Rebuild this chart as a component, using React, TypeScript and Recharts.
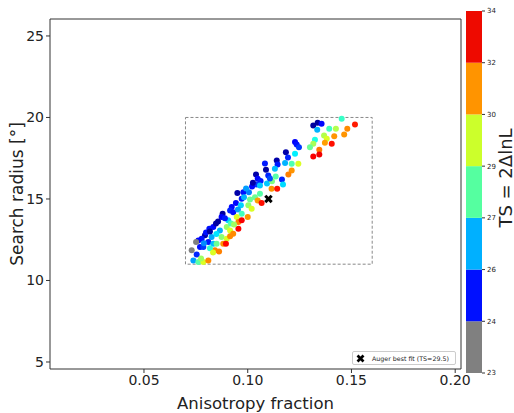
import { ScatterChart, Scatter, XAxis, YAxis, ReferenceArea, ReferenceLine, BarChart, Bar } from 'recharts'

// likelihood scan: anisotropy fraction, search radius [deg], TS value
const frac = [
  0.1453, 0.1316, 0.1337, 0.1356, 0.1335, 0.1393, 0.1425, 0.148, 0.1517, 0.1465,
  0.1417, 0.1368, 0.1381, 0.1324, 0.1316, 0.13, 0.1372, 0.1405, 0.1345, 0.1316,
  0.1345, 0.1228, 0.1236, 0.1247, 0.1184, 0.1228, 0.1212, 0.1244, 0.114, 0.1144,
  0.118, 0.1212, 0.1196, 0.1088, 0.1131, 0.1099, 0.1135, 0.104, 0.1048, 0.1062,
  0.1043, 0.1059, 0.1115, 0.1142, 0.1059, 0.1035, 0.1048, 0.1067, 0.095, 0.0979,
  0.1006, 0.0971, 0.0943, 0.0967, 0.1003, 0.1019, 0.0923, 0.0915, 0.093, 0.0953,
  0.0971, 0.1, 0.0879, 0.0874, 0.0906, 0.0947, 0.0955, 0.0971, 0.0834, 0.0847,
  0.0815, 0.0866, 0.0899, 0.0915, 0.093, 0.0955, 0.0794, 0.0778, 0.0762, 0.0826,
  0.0874, 0.0899, 0.0915, 0.0751, 0.077, 0.0786, 0.081, 0.0834, 0.085, 0.0882,
  0.0895, 0.073, 0.0754, 0.0738, 0.0762, 0.0786, 0.081, 0.0842, 0.0775, 0.0799,
  0.0818, 0.0849, 0.0857, 0.089, 0.0919, 0.0934, 0.0789, 0.0818, 0.0833, 0.0862,
  0.0982, 0.1011, 0.1093, 0.1117, 0.1165, 0.117, 0.1194, 0.1083, 0.1107, 0.1021,
  0.1025, 0.0992,
]
const radius = [
  19.92, 19.51, 19.68, 19.61, 19.25, 19.31, 19.31, 19.31, 19.57, 18.96,
  18.85, 18.9, 18.69, 18.63, 18.39, 18.18, 18.45, 18.39, 18.02, 17.61,
  17.73, 18.49, 18.34, 18.18, 17.87, 17.77, 17.16, 17.16, 17.36, 17.12,
  17.2, 16.75, 16.5, 16.79, 16.85, 16.44, 16.38, 16.5, 16.24, 16.1,
  15.89, 15.83, 15.63, 15.63, 15.32, 15.11, 14.91, 14.75, 15.36, 15.42,
  15.42, 15.02, 14.75, 14.61, 14.61, 14.4, 14.5, 14.3, 14.19, 14.36,
  14.1, 13.89, 14.1, 13.89, 13.69, 13.89, 13.58, 13.69, 13.28, 13.5,
  13.18, 13.07, 13.28, 13.07, 12.87, 13.18, 12.77, 12.56, 12.46, 12.66,
  12.66, 12.56, 12.71, 12.36, 12.05, 12.05, 12.36, 12.26, 12.26, 12.26,
  12.26, 11.85, 11.6, 11.23, 11.13, 11.13, 11.23, 11.85, 11.35, 12.95,
  13.0, 12.85, 13.62, 13.81, 13.5, 13.44, 12.28, 11.97, 11.72, 11.78,
  15.1, 14.97, 15.95, 16.08, 16.2, 15.89, 17.55, 17.18, 16.26, 15.77,
  16.0, 15.65,
]
const tsValues = [
  28.3, 24.3, 24.3, 25.3, 27.0, 28.4, 29.5, 31.4, 32.5, 31.3,
  31.3, 29.5, 29.9, 28.0, 29.4, 28.8, 31.2, 32.6, 31.6, 32.8,
  32.9, 25.2, 25.4, 25.8, 24.4, 27.6, 28.5, 29.9, 24.4, 25.5,
  27.0, 31.3, 31.5, 24.3, 27.1, 25.6, 28.6, 24.4, 25.3, 25.5,
  25.8, 27.2, 31.3, 32.6, 28.6, 28.8, 31.2, 32.6, 24.4, 25.4,
  26.5, 25.5, 25.3, 27.3, 29.2, 29.9, 25.3, 25.6, 25.4, 26.8,
  28.4, 31.3, 24.3, 25.2, 27.3, 29.9, 31.5, 32.8, 25.3, 24.4,
  25.4, 27.0, 29.2, 29.9, 31.4, 32.8, 24.4, 25.4, 25.3, 26.9,
  29.1, 29.9, 31.4, 23.5, 25.4, 25.8, 25.5, 27.1, 28.8, 31.3,
  32.7, 23.5, 25.6, 26.8, 28.6, 29.9, 31.4, 31.5, 29.3, 25.4,
  24.3, 27.5, 24.3, 25.5, 28.5, 29.3, 26.6, 28.2, 29.9, 31.5,
  27.0, 28.8, 27.2, 29.0, 25.6, 27.4, 25.6, 25.5, 26.0, 25.3,
  24.4, 26.8,
]

const bestFit = [{ x: 0.11, y: 15, ts: 29.5 }]

const xDomain = [0.0047, 0.2028]
const yDomain = [4.57, 26.04]
const xTicks = [0.05, 0.1, 0.15, 0.2]
const yTicks = [5, 10, 15, 20, 25]

// colorbar
const cbBounds = [23, 24, 26, 27, 29, 30, 32, 34]
const cbColors = ['#808080', '#0010ff', '#00b0ff', '#55ffa0', '#ccff2b', '#ff9400', '#ee0a00']

const FONT = '"DejaVu Sans", sans-serif'

const clamp = (v: number) => Math.max(0, Math.min(1, v))

// jet colormap, grey below 24
function tsColor(v: number) {
  if (v < 24) return '#808080'
  const t = clamp((v - 24) / 10)
  const r = clamp(Math.min(4 * t - 1.5, -4 * t + 4.5))
  const g = clamp(Math.min(4 * t - 0.5, -4 * t + 3.5))
  const b = clamp(Math.min(4 * t + 0.5, -4 * t + 2.5))
  return `rgb(${Math.round(r * 255)},${Math.round(g * 255)},${Math.round(b * 255)})`
}

const scanData = frac.map((f, i) => ({ x: f, y: radius[i], ts: tsValues[i] }))

const Dot = (props: any) => {
  const { cx, cy, payload } = props
  return <circle cx={cx} cy={cy} r={3} fill={tsColor(payload.ts)} />
}

const XMark = (props: any) => {
  const { cx, cy } = props
  const a = 3.2
  return (
    <g stroke="#000" strokeWidth={3}>
      <line x1={cx - a} y1={cy - a} x2={cx + a} y2={cy + a} />
      <line x1={cx - a} y1={cy + a} x2={cx + a} y2={cy - a} />
    </g>
  )
}

const LegendBox = () => (
  <div
    style={{
      position: 'absolute',
      left: 352,
      top: 351,
      width: 104,
      height: 14,
      boxSizing: 'border-box',
      display: 'flex',
      alignItems: 'center',
      border: '1px solid #ccc',
      borderRadius: 2,
      background: '#fff',
      padding: '0 3px',
      fontFamily: FONT,
      fontSize: 6.3,
      color: '#222',
      whiteSpace: 'nowrap',
    }}
  >
    <svg width={9} height={9} style={{ marginRight: 7, flexShrink: 0 }}>
      <g stroke="#000" strokeWidth={2.6}>
        <line x1={1.5} y1={1.5} x2={7.5} y2={7.5} />
        <line x1={1.5} y1={7.5} x2={7.5} y2={1.5} />
      </g>
    </svg>
    Auger best fit (TS=29.5)
  </div>
)

export default function App() {
  const cbData = [Object.fromEntries(cbColors.map((_, i) => ['s' + i, 1]))]

  return (
    <div style={{ position: 'fixed', left: 0, top: 0, width: 514, height: 413, background: '#fff', fontFamily: FONT }}>
      <ScatterChart width={514} height={413} margin={{ top: 19, right: 53, bottom: 0, left: 0 }}>
        <XAxis
          type="number"
          dataKey="x"
          domain={xDomain}
          allowDataOverflow
          ticks={xTicks}
          tickFormatter={(v: number) => v.toFixed(2)}
          height={44}
          tickSize={4}
          tick={{ fontSize: 14, fill: '#222', fontFamily: FONT }}
          stroke="#333"
          label={{ value: 'Anisotropy fraction', position: 'insideBottom', offset: 4, fontSize: 16.5, fill: '#222', fontFamily: FONT }}
        />
        <YAxis
          type="number"
          dataKey="y"
          domain={yDomain}
          allowDataOverflow
          ticks={yTicks}
          width={50}
          tickSize={4}
          tick={{ fontSize: 14, fill: '#222', fontFamily: FONT }}
          stroke="#333"
          label={{
            content: () => {
              const cx = 17
              const cy = 194
              return (
                <text x={cx} y={cy} transform={`rotate(-90, ${cx}, ${cy})`} textAnchor="middle" dominantBaseline="central" fontSize={17} fill="#222" fontFamily={FONT}>
                  Search radius [°]
                </text>
              )
            },
          }}
        />
        <ReferenceLine y={yDomain[1]} stroke="#333" ifOverflow="visible" />
        <ReferenceLine x={xDomain[1]} stroke="#333" ifOverflow="visible" />
        <ReferenceArea x1={0.07} x2={0.16} y1={11} y2={20} stroke="#888" strokeDasharray="3 2" fill="none" fillOpacity={0} />
        <Scatter data={scanData} shape={<Dot />} isAnimationActive={false} />
        <Scatter data={bestFit} shape={<XMark />} isAnimationActive={false} />
      </ScatterChart>

      <LegendBox />

      <div style={{ position: 'absolute', left: 466, top: 0 }}>
        <BarChart width={48} height={413} data={cbData} margin={{ top: 11, right: 0, bottom: 40, left: 0 }} barCategoryGap={0}>
          <XAxis hide />
          <YAxis
            orientation="right"
            type="number"
            domain={[0, 7]}
            ticks={[0, 1, 2, 3, 4, 5, 6, 7]}
            tickFormatter={(i: number) => String(cbBounds[i])}
            width={32}
            tickSize={3}
            axisLine={false}
            stroke="#333"
            tick={{ fontSize: 7, fill: '#222', fontFamily: FONT }}
            label={{
              content: () => {
                const cx = 39
                const cy = 178
                return (
                  <text x={cx} y={cy} transform={`rotate(-90, ${cx}, ${cy})`} textAnchor="middle" dominantBaseline="central" fontSize={18} fill="#222" fontFamily={FONT}>
                    TS = 2ΔlnL
                  </text>
                )
              },
            }}
          />
          {cbColors.map((c, i) => (
            <Bar key={c} dataKey={'s' + i} stackId="cb" fill={c} isAnimationActive={false} />
          ))}
        </BarChart>
      </div>
    </div>
  )
}
